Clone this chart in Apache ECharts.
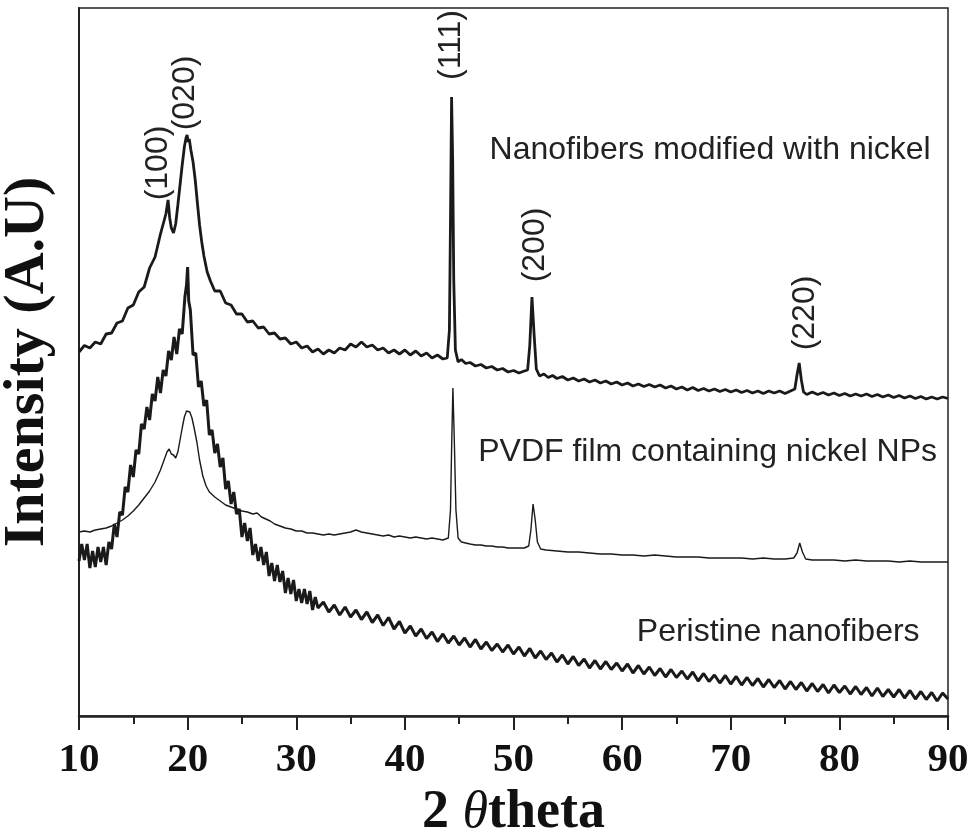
<!DOCTYPE html>
<html lang="en">
<head>
    <meta charset="UTF-8">
    <title>XRD patterns</title>
    <style>
      * { padding: 0; margin: 0; }
      body { background: #fff; }
   </style>
</head>
<body>
    <div id="main" style="width: 976px;height:835px;"></div>
    <script src="https://cdn.jsdelivr.net/npm/echarts@6/dist/echarts.min.js"></script>
    <script>
    // 2theta (deg), intensity (a.u.)
    var nickelFibers = [
        [10.0,3640],[10.5,3705],[11.0,3680],[11.5,3740],[12.0,3720],[12.5,3820],[13.0,3830],[13.5,3930],
        [14.0,3950],[14.5,4080],[15.0,4110],[15.5,4240],[16.0,4290],[16.5,4480],[17.0,4590],[17.5,4820],
        [17.8,4940],[18.0,5020],[18.2,5160],[18.35,4980],[18.5,4880],[18.7,4830],[18.9,4920],[19.1,5110],
        [19.3,5310],[19.5,5510],[19.7,5690],[19.85,5780],[19.95,5810],[20.05,5740],[20.15,5770],[20.3,5660],
        [20.5,5540],[20.7,5360],[20.9,5130],[21.1,4910],[21.3,4740],[21.5,4600],[21.8,4440],[22.1,4350],
        [22.5,4250],[23.0,4250],[23.5,4130],[24.0,4110],[24.5,4020],[25.0,4020],[25.5,3940],[26.0,3950],
        [26.5,3880],[27.0,3890],[27.5,3820],[28.0,3830],[28.5,3770],[29.0,3780],[29.5,3720],[30.0,3740],
        [30.5,3680],[31.0,3700],[31.5,3640],[32.0,3670],[32.5,3620],[33.0,3660],[33.5,3630],[34.0,3680],
        [34.5,3660],[35.0,3720],[35.5,3690],[36.0,3740],[36.5,3690],[37.0,3710],[37.5,3660],[38.0,3680],
        [38.5,3630],[39.0,3660],[39.5,3620],[40.0,3660],[40.5,3610],[41.0,3650],[41.5,3600],[42.0,3630],
        [42.5,3580],[43.0,3610],[43.5,3570],[43.9,3580],[44.1,3860],[44.2,4960],[44.3,6190],[44.4,5560],
        [44.5,4360],[44.65,3660],[44.9,3540],[45.2,3565],[45.6,3525],[46.0,3535],[46.5,3500],[47.0,3515],
        [47.5,3480],[48.0,3495],[48.5,3460],[49.0,3475],[49.5,3440],[50.0,3455],[50.5,3430],[51.0,3450],
        [51.3,3460],[51.5,3710],[51.7,4190],[51.9,3810],[52.1,3470],[52.4,3400],[52.8,3420],[53.2,3385],
        [53.6,3405],[54.0,3375],[54.5,3395],[55.0,3360],[55.5,3380],[56.0,3350],[56.5,3370],[57.0,3340],
        [57.5,3360],[58.0,3330],[58.5,3350],[59.0,3320],[59.5,3340],[60.0,3310],[60.5,3330],[61.0,3300],
        [61.5,3320],[62.0,3295],[62.5,3315],[63.0,3290],[63.5,3310],[64.0,3280],[64.5,3300],[65.0,3270],
        [65.5,3290],[66.0,3260],[66.5,3285],[67.0,3255],[67.5,3275],[68.0,3250],[68.5,3270],[69.0,3245],
        [69.5,3265],[70.0,3240],[70.5,3260],[71.0,3235],[71.5,3255],[72.0,3230],[72.5,3250],[73.0,3225],
        [73.5,3250],[74.0,3230],[74.5,3250],[75.0,3225],[75.5,3250],[75.9,3270],[76.1,3410],[76.3,3530],
        [76.5,3360],[76.7,3240],[77.0,3215],[77.5,3240],[78.0,3215],[78.5,3235],[79.0,3210],[79.5,3230],
        [80.0,3205],[80.5,3225],[81.0,3200],[81.5,3220],[82.0,3200],[82.5,3220],[83.0,3195],[83.5,3215],
        [84.0,3190],[84.5,3210],[85.0,3185],[85.5,3205],[86.0,3180],[86.5,3200],[87.0,3175],[87.5,3195],
        [88.0,3170],[88.5,3190],[89.0,3170],[89.5,3190],[90.0,3175]
    ];

    var pvdfFilm = [
        [10.0,1840],[10.5,1850],[11.0,1840],[11.5,1860],[12.0,1870],[12.5,1880],[13.0,1900],[13.5,1930],
        [14.0,1960],[14.5,2000],[15.0,2050],[15.5,2110],[16.0,2180],[16.5,2250],[17.0,2340],[17.5,2460],
        [17.8,2550],[18.1,2640],[18.3,2670],[18.5,2620],[18.7,2610],[18.9,2580],[19.1,2640],[19.3,2760],
        [19.5,2880],[19.7,2990],[19.9,3050],[20.05,3070],[20.2,3040],[20.4,2980],[20.6,2880],[20.85,2740],
        [21.1,2560],[21.4,2400],[21.7,2300],[22.0,2240],[22.5,2190],[23.0,2150],[23.5,2110],[24.0,2090],
        [24.5,2070],[25.0,2050],[25.5,2040],[26.0,2020],[26.4,2030],[26.8,1990],[27.2,1970],[27.6,1950],
        [28.0,1920],[28.5,1900],[29.0,1880],[29.5,1870],[30.0,1850],[30.5,1850],[31.0,1830],[31.5,1830],
        [32.0,1820],[32.5,1810],[33.0,1820],[33.5,1810],[34.0,1820],[34.5,1830],[35.0,1840],[35.5,1860],
        [36.0,1840],[36.5,1830],[37.0,1820],[37.5,1810],[38.0,1800],[38.5,1810],[39.0,1790],[39.5,1800],
        [40.0,1790],[40.5,1780],[41.0,1790],[41.5,1780],[42.0,1770],[42.5,1780],[43.0,1770],[43.5,1760],
        [44.0,1780],[44.2,2060],[44.3,2660],[44.42,3280],[44.55,2760],[44.7,2060],[44.9,1780],[45.2,1740],
        [45.6,1730],[46.0,1720],[46.5,1710],[47.0,1710],[47.5,1700],[48.0,1700],[48.5,1690],[49.0,1690],
        [49.5,1680],[50.0,1680],[50.5,1680],[51.0,1680],[51.4,1700],[51.6,1860],[51.8,2120],[52.0,1960],
        [52.2,1740],[52.5,1670],[53.0,1660],[54.0,1650],[55.0,1640],[56.0,1640],[57.0,1630],[58.0,1620],
        [59.0,1620],[60.0,1610],[61.0,1610],[62.0,1600],[63.0,1610],[64.0,1600],[65.0,1590],[66.0,1590],
        [67.0,1590],[68.0,1580],[69.0,1580],[70.0,1580],[71.0,1580],[72.0,1570],[73.0,1580],[74.0,1570],
        [75.0,1570],[75.8,1580],[76.1,1630],[76.35,1730],[76.6,1640],[76.9,1570],[77.5,1560],[78.5,1560],
        [79.5,1560],[80.5,1550],[81.5,1560],[82.5,1550],[83.5,1550],[84.5,1550],[85.5,1540],[86.5,1550],
        [87.5,1540],[88.5,1540],[89.5,1540],[90.0,1540]
    ];

    var pristineFibers = [
        [10.0,1550],[10.25,1720],[10.5,1560],[10.75,1720],[11.0,1480],[11.25,1650],[11.5,1490],[11.75,1690],
        [12.0,1540],[12.25,1690],[12.5,1510],[12.75,1740],[13.0,1670],[13.25,1920],[13.5,1790],[13.75,2040],
        [14.0,2010],[14.25,2290],[14.5,2240],[14.75,2510],[15.0,2390],[15.25,2660],[15.5,2620],[15.75,2920],
        [16.0,2870],[16.25,3090],[16.5,2960],[16.75,3220],[17.0,3150],[17.25,3390],[17.5,3230],[17.75,3460],
        [18.0,3400],[18.25,3650],[18.5,3560],[18.75,3790],[19.0,3620],[19.25,3870],[19.5,3820],[19.75,4190],
        [19.9,4310],[20.0,4490],[20.1,4150],[20.25,4060],[20.5,3610],[20.75,3630],[21.0,3290],[21.25,3350],
        [21.5,3100],[21.75,3160],[22.0,2810],[22.25,2860],[22.5,2630],[22.75,2720],[23.0,2490],[23.25,2580],
        [23.5,2270],[23.75,2350],[24.0,2120],[24.25,2240],[24.5,2020],[24.75,2070],[25.0,1790],[25.25,1930],
        [25.5,1750],[25.75,1880],[26.0,1610],[26.25,1720],[26.5,1550],[26.75,1690],[27.0,1510],[27.25,1640],
        [27.5,1400],[27.75,1530],[28.0,1350],[28.25,1510],[28.5,1340],[28.75,1450],[29.0,1230],[29.25,1380],
        [29.5,1220],[29.75,1360],[30.0,1150],[30.25,1270],[30.5,1130],[30.75,1270],[31.0,1120],[31.25,1250],
        [31.5,1060],[31.75,1190],[32.0,1080],[32.5,1140],[33.0,1040],[33.5,1110],[34.0,1010],[34.5,1090],
        [35.0,990],[35.5,1060],[36.0,965],[36.5,1040],[37.0,935],[37.5,1010],[38.0,905],[38.5,985],
        [39.0,870],[39.5,945],[40.0,830],[40.5,900],[41.0,800],[41.5,870],[42.0,775],[42.5,840],
        [43.0,745],[43.5,820],[44.0,730],[44.5,800],[45.0,710],[45.5,780],[46.0,690],[46.5,765],
        [47.0,670],[47.5,740],[48.0,655],[48.5,720],[49.0,640],[49.5,710],[50.0,620],[50.5,690],
        [51.0,600],[51.5,675],[52.0,580],[52.5,650],[53.0,565],[53.5,630],[54.0,540],[54.5,610],
        [55.0,520],[55.5,595],[56.0,505],[56.5,570],[57.0,480],[57.5,555],[58.0,470],[58.5,545],
        [59.0,465],[59.5,530],[60.0,450],[60.5,520],[61.0,430],[61.5,505],[62.0,420],[62.5,490],
        [63.0,405],[63.5,475],[64.0,390],[64.5,465],[65.0,385],[65.5,450],[66.0,370],[66.5,440],
        [67.0,350],[67.5,425],[68.0,345],[68.5,410],[69.0,330],[69.5,405],[70.0,320],[70.5,395],
        [71.0,310],[71.5,385],[72.0,305],[72.5,375],[73.0,290],[73.5,365],[74.0,285],[74.5,355],
        [75.0,270],[75.5,345],[76.0,265],[76.5,335],[77.0,250],[77.5,325],[78.0,245],[78.5,315],
        [79.0,230],[79.5,310],[80.0,235],[80.5,300],[81.0,220],[81.5,295],[82.0,215],[82.5,285],
        [83.0,200],[83.5,280],[84.0,195],[84.5,265],[85.0,190],[85.5,265],[86.0,180],[86.5,255],
        [87.0,170],[87.5,245],[88.0,165],[88.5,235],[89.0,150],[89.5,230],[90.0,170]
    ];

    var xTicks = [10, 20, 30, 40, 50, 60, 70, 80, 90];

    // peak indices: text, 2theta, intensity where the label centre sits
    var peakLabels = ['(100)', '(020)', '(111)', '(200)', '(220)'];
    var peakTheta  = [17.25, 19.75, 44.3, 51.95, 76.85];
    var peakInt    = [5530, 6230, 6710, 4710, 4030];

    // sample names: text, left 2theta, intensity of the text middle
    var sampleNames = ['Nanofibers modified with nickel', 'PVDF film containing nickel NPs', 'Peristine nanofibers'];
    var nameTheta   = [47.8, 46.75, 61.35];
    var nameInt     = [5660, 2640, 840];

    var lineColor = '#1a1a1a';
    var serif = '"Liberation Serif", "Times New Roman", serif';
    var sans = '"Liberation Sans", Arial, sans-serif';

    option = {
        animation: false,
        grid: {
            left: 79, right: 28, top: 8, bottom: 119,
            containLabel: false, outerBoundsMode: 'none',
            show: true, borderColor: '#222', borderWidth: 1.5
        },
        xAxis: {
            type: 'value',
            min: 10, max: 90, interval: 10,
            name: '{b|2 }{i|θ}{b|theta}',
            nameLocation: 'middle',
            nameGap: 51,
            nameTextStyle: {
                rich: {
                    b: { fontFamily: serif, fontWeight: 'bold', fontSize: 54, color: '#111' },
                    i: { fontFamily: serif, fontStyle: 'italic', fontSize: 52, color: '#111' }
                }
            },
            axisLine: { show: true, lineStyle: { color: '#222', width: 2.5 } },
            axisTick: { show: true, inside: false, length: 14, lineStyle: { color: '#222', width: 2 } },
            minorTick: { show: true, splitNumber: 2, length: 8, lineStyle: { color: '#222', width: 2 } },
            axisLabel: {
                margin: 24,
                fontFamily: serif, fontWeight: 'bold', fontSize: 41, color: '#111',
                formatter: function (v) { return xTicks.indexOf(v) >= 0 ? String(v) : ''; }
            },
            splitLine: { show: false }
        },
        yAxis: {
            type: 'value',
            min: 0, max: 7080,
            name: 'Intensity (A.U)',
            nameLocation: 'middle',
            nameGap: 22,
            nameTextStyle: { fontFamily: serif, fontWeight: 'bold', fontSize: 58, color: '#111' },
            axisLine: { show: true, lineStyle: { color: '#222', width: 2 } },
            axisTick: { show: false },
            axisLabel: { show: false },
            splitLine: { show: false }
        },
        series: [
            { name: sampleNames[0], type: 'line', data: nickelFibers, showSymbol: false,
              lineStyle: { color: lineColor, width: 2.8 } },
            { name: sampleNames[1], type: 'line', data: pvdfFilm, showSymbol: false,
              lineStyle: { color: lineColor, width: 1.4 } },
            { name: sampleNames[2], type: 'line', data: pristineFibers, showSymbol: false,
              lineStyle: { color: lineColor, width: 3 } }
        ]
    };

    var myChart = echarts.init(document.getElementById('main'));
    myChart.setOption(option);

    // annotations placed through the chart's own coordinate system
    var graphics = [];
    peakLabels.forEach(function (t, i) {
        var p = myChart.convertToPixel({ gridIndex: 0 }, [peakTheta[i], peakInt[i]]);
        graphics.push({
            type: 'text', x: p[0], y: p[1], rotation: Math.PI / 2,
            style: { text: t, font: '32px ' + sans, fill: '#222', align: 'center', verticalAlign: 'middle' }
        });
    });
    sampleNames.forEach(function (t, i) {
        var p = myChart.convertToPixel({ gridIndex: 0 }, [nameTheta[i], nameInt[i]]);
        graphics.push({
            type: 'text', x: p[0], y: p[1],
            style: { text: t, font: '32px ' + sans, fill: '#222', align: 'left', verticalAlign: 'middle' }
        });
    });
    myChart.setOption({ graphic: graphics });
    </script>
</body>
</html>
